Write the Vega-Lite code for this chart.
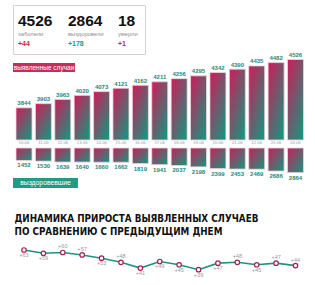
{
  "$schema": "https://vega.github.io/schema/vega-lite/v6.json",
  "padding": {"left": 12, "top": 4, "right": 0, "bottom": 0},
  "autosize": {"type": "pad"},
  "background": "white",
  "bounds": "flush",
  "spacing": 9,
  "config": {"view": {"stroke": null}, "font": "Liberation Sans"},
  "datasets": {
    "daily": [
      {"date": "10.06", "cases": 3844, "recovered": 1452, "increase": 63},
      {"date": "11.06", "cases": 3903, "recovered": 1530, "increase": 59},
      {"date": "12.06", "cases": 3963, "recovered": 1639, "increase": 60},
      {"date": "13.06", "cases": 4020, "recovered": 1640, "increase": 57},
      {"date": "14.06", "cases": 4073, "recovered": 1660, "increase": 53},
      {"date": "15.06", "cases": 4121, "recovered": 1662, "increase": 48},
      {"date": "16.06", "cases": 4162, "recovered": 1819, "increase": 41},
      {"date": "17.06", "cases": 4211, "recovered": 1941, "increase": 49},
      {"date": "18.06", "cases": 4256, "recovered": 2037, "increase": 45},
      {"date": "19.06", "cases": 4295, "recovered": 2198, "increase": 39},
      {"date": "20.06", "cases": 4342, "recovered": 2399, "increase": 47},
      {"date": "21.06", "cases": 4390, "recovered": 2453, "increase": 48},
      {"date": "22.06", "cases": 4435, "recovered": 2469, "increase": 45},
      {"date": "23.06", "cases": 4482, "recovered": 2686, "increase": 47},
      {"date": "24.06", "cases": 4526, "recovered": 2864, "increase": 44}
    ],
    "summary": [
      {"stat": "заболели", "total": 4526, "delta": 44},
      {"stat": "выздоровели", "total": 2864, "delta": 178},
      {"stat": "умерли", "total": 18, "delta": 1}
    ]
  },
  "vconcat": [
    {
      "width": 132,
      "height": 49,
      "view": {"stroke": "#d3d3d3", "strokeWidth": 1, "fill": "white"},
      "data": {"name": "summary"},
      "encoding": {
        "x": {"field": "stat", "type": "nominal", "sort": null, "scale": {"type": "point", "domain": ["заболели", "выздоровели", "умерли"], "range": [5, 105], "padding": 0}, "axis": null}
      },
      "layer": [
        {
          "mark": {"type": "text", "align": "left", "baseline": "alphabetic", "dy": -3.5, "fontSize": 15.5, "fontWeight": "bold", "color": "#111111"},
          "encoding": {"text": {"field": "total", "type": "quantitative", "format": "d"}}
        },
        {
          "mark": {"type": "text", "align": "left", "baseline": "alphabetic", "dy": 6.5, "fontSize": 5.8, "color": "#8f8f8f"},
          "encoding": {"text": {"field": "stat", "type": "nominal"}}
        },
        {
          "mark": {"type": "text", "align": "left", "baseline": "alphabetic", "dy": 16, "fontSize": 7, "fontWeight": "bold"},
          "encoding": {
            "text": {"field": "delta", "type": "quantitative", "format": "+d"},
            "color": {"field": "stat", "type": "nominal", "scale": {"domain": ["заболели", "выздоровели", "умерли"], "range": ["#c2255a", "#1f9683", "#c2255a"]}, "legend": null}
          }
        }
      ]
    },
    {
      "width": 62,
      "height": 9,
      "view": {"fill": "#c62d5c", "stroke": null},
      "data": {"values": [{"label": "выявленные случаи"}]},
      "mark": {"type": "text", "color": "white", "fontSize": 6.5, "baseline": "middle", "align": "center"},
      "encoding": {"text": {"field": "label", "type": "nominal"}}
    },
    {
      "width": 303,
      "height": 88,
      "data": {"name": "daily"},
      "encoding": {
        "x": {"field": "date", "type": "ordinal", "sort": null, "scale": {"type": "band", "range": [3, 290.5], "paddingInner": 0.175, "paddingOuter": 0}, "axis": null}
      },
      "layer": [
        {
          "encoding": {
            "y": {"field": "cases", "type": "quantitative", "scale": {"domain": [3390, 4526], "range": [59, -21.5], "zero": false}, "axis": null}
          },
          "layer": [
            {
              "mark": {"type": "bar", "stroke": "#ead6dc", "strokeWidth": 0.8,
                "fill": {"gradient": "linear", "x1": 0.1, "y1": 0, "x2": 0.9, "y2": 1,
                  "stops": [{"offset": 0, "color": "#c8205a"}, {"offset": 1, "color": "#14967f"}]}},
              "encoding": {"y2": {"datum": 3390}}
            },
            {
              "mark": {"type": "text", "baseline": "bottom", "dy": -1.5, "fontSize": 6, "fontWeight": "bold", "color": "#27887a"},
              "encoding": {"text": {"field": "cases", "type": "quantitative", "format": "d"}}
            },
            {
              "mark": {"type": "text", "baseline": "top", "dy": 1, "fontSize": 4.3, "color": "#9a9a9a"},
              "encoding": {"y": {"datum": 3390}, "text": {"field": "date", "type": "nominal"}}
            }
          ]
        },
        {
          "encoding": {
            "y": {"field": "recovered", "type": "quantitative", "scale": {"domain": [0, 2864], "range": [67, 91.6]}, "axis": null}
          },
          "layer": [
            {
              "mark": {"type": "bar", "stroke": "#ead6dc", "strokeWidth": 0.8,
                "fill": {"gradient": "linear", "x1": 0, "y1": 0, "x2": 1, "y2": 1,
                  "stops": [{"offset": 0, "color": "#c8205a"}, {"offset": 1, "color": "#14967f"}]}},
              "encoding": {"y2": {"datum": 0}}
            },
            {
              "mark": {"type": "text", "baseline": "top", "dy": 2, "fontSize": 6, "fontWeight": "bold", "color": "#27887a"},
              "encoding": {"text": {"field": "recovered", "type": "quantitative", "format": "d"}}
            }
          ]
        }
      ],
      "resolve": {"scale": {"y": "independent"}}
    },
    {
      "width": 65,
      "height": 10,
      "view": {"fill": "#239a86", "stroke": null},
      "data": {"values": [{"label": "выздоровевшие"}]},
      "mark": {"type": "text", "color": "white", "fontSize": 6.8, "baseline": "middle", "align": "center"},
      "encoding": {"text": {"field": "label", "type": "nominal"}}
    },
    {
      "width": 1,
      "height": 40,
      "data": {"values": [{"title": "ДИНАМИКА ПРИРОСТА ВЫЯВЛЕННЫХ СЛУЧАЕВ\nПО СРАВНЕНИЮ С ПРЕДЫДУЩИМ ДНЕМ"}]},
      "mark": {"type": "text", "align": "left", "baseline": "alphabetic", "lineBreak": "\n", "lineHeight": 13, "dx": 1, "dy": 4.7,
        "font": "Liberation Sans Narrow, DejaVu Sans Condensed, sans-serif", "fontSize": 9.8, "fontWeight": "bold", "color": "#111111"},
      "encoding": {"text": {"field": "title", "type": "nominal"}}
    },
    {
      "width": 303,
      "height": 40,
      "data": {"name": "daily"},
      "encoding": {
        "x": {"field": "date", "type": "ordinal", "sort": null, "scale": {"type": "band", "range": [3, 290.5], "paddingInner": 0.175, "paddingOuter": 0}, "axis": null},
        "y": {"field": "increase", "type": "quantitative", "scale": {"domain": [39, 63], "range": [23.7, 4], "zero": false}, "axis": null}
      },
      "layer": [
        {"mark": {"type": "line", "color": "#1f9484", "strokeWidth": 1.6}},
        {"mark": {"type": "point", "filled": true, "fill": "white", "stroke": "#9e2358", "strokeWidth": 1.2, "size": 20, "opacity": 1}},
        {
          "transform": [{"filter": {"field": "date", "oneOf": ["12.06", "13.06", "15.06", "21.06", "23.06", "24.06"]}}],
          "mark": {"type": "text", "baseline": "bottom", "dy": -3, "fontSize": 5.5, "color": "#999999"},
          "encoding": {"text": {"field": "increase", "type": "quantitative", "format": "+d"}}
        },
        {
          "transform": [{"filter": {"not": {"field": "date", "oneOf": ["12.06", "13.06", "15.06", "21.06", "23.06", "24.06"]}}}],
          "mark": {"type": "text", "baseline": "top", "dy": 3, "fontSize": 5.5, "color": "#999999"},
          "encoding": {"text": {"field": "increase", "type": "quantitative", "format": "+d"}}
        }
      ]
    }
  ]
}
